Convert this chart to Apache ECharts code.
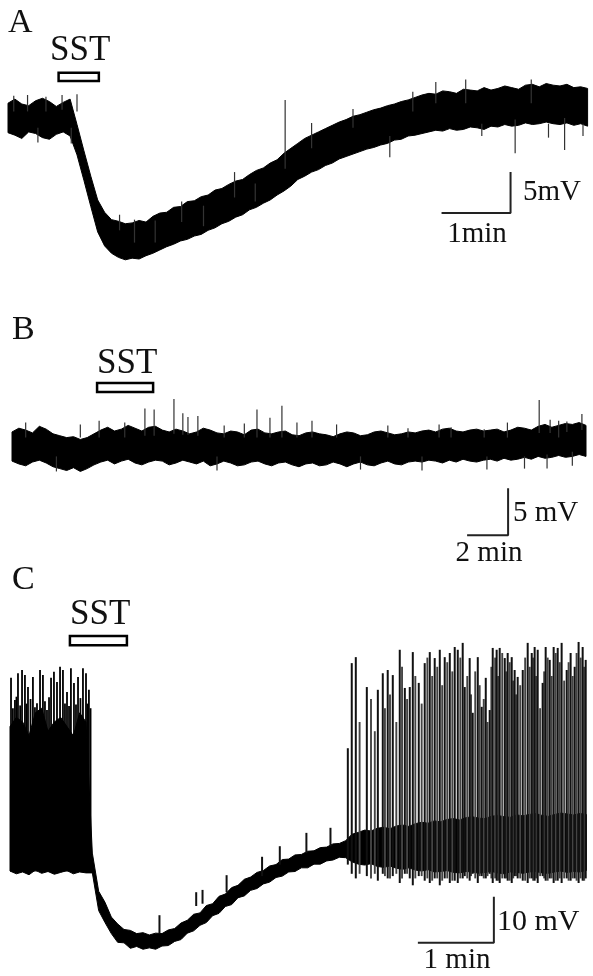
<!DOCTYPE html>
<html><head><meta charset="utf-8">
<script src="https://cdn.jsdelivr.net/npm/echarts@6/dist/echarts.min.js"></script>
<style>html,body{margin:0;padding:0;background:#fff}#c{width:593px;height:976px}</style>
</head><body><div id="c"></div><script>
// ---------- Panel A (sample step 6 s, mV relative to rest) ----------
const dtA = 6;
const upperA = [2.0,2.5,1.9,1.7,2.3,2.6,2.2,1.6,2.1,2.5,
-0.6,-3.8,-6.9,-9.8,-11.3,-12.2,-12.4,-12.7,-12.6,-12.3,
-12.5,-11.8,-11.4,-11.3,-10.7,-10.6,-10.0,-9.9,-9.4,-9.2,
-8.6,-8.4,-7.9,-7.5,-7.3,-6.7,-6.2,-5.9,-5.3,-4.9,
-4.1,-3.5,-2.9,-2.3,-1.9,-1.5,-1.1,-0.7,-0.3,0.0,
0.4,0.6,0.9,1.2,1.4,1.7,1.9,2.2,2.4,2.7,
3.0,3.2,3.1,3.5,3.4,3.2,3.7,3.6,3.5,3.9,
3.6,3.8,4.1,3.9,3.7,4.2,4.3,4.0,4.4,4.2,
4.1,4.3,3.9,4.0,3.8];
const lowerA = [-1.6,-1.9,-2.3,-1.5,-1.7,-2.2,-2.4,-1.8,-1.5,-2.0,
-4.3,-7.4,-10.6,-13.7,-15.4,-16.3,-16.8,-17.1,-16.9,-17.0,
-16.6,-16.3,-15.9,-15.5,-15.2,-14.8,-14.6,-14.2,-14.0,-13.5,
-13.2,-12.7,-12.4,-11.9,-11.6,-11.0,-10.7,-10.2,-9.8,-9.2,
-8.7,-8.1,-7.3,-6.9,-6.4,-6.1,-5.6,-5.3,-4.8,-4.5,
-4.2,-3.9,-3.6,-3.4,-3.1,-2.9,-2.5,-2.4,-2.0,-1.9,
-1.7,-1.5,-1.3,-1.4,-1.1,-1.3,-1.2,-0.9,-1.0,-1.2,
-0.8,-0.9,-0.6,-0.8,-0.7,-0.4,-0.6,-0.5,-0.3,-0.5,
-0.6,-0.4,-0.7,-0.5,-0.8];
// spikes: [time s, from mV, to mV]
const spikesA = [[97,-13.5,-11.6],[151,-12.5,-10.0],[197,-9.5,-6.4],[241,-6.0,2.4],[264,-3.5,-0.4],
[332,-2.0,-4.6],[441,0,-4.1],[484,0.2,-3.7],
[5,1,2.9],[17,1,3.0],[26,-1,-2.8],[33,1,2.8],[47,1.2,3.0],[55,-1,-2.9],[60,1,3.1],
[110,-15,-12.2],[128,-15,-12.3],[170,-13,-10.5],[215,-10,-7.8],
[300,-1,1.3],[352,1,3.4],[372,2,4.6],[398,2,4.9],[412,-0.5,-2.0],[455,2,4.9],[470,-0.5,-2.2],
[500,-0.5,-2.0],[510,2,5.0],[530,2,4.9]];
const sstA = [44, 79, 5.7, 4.7];           // t start, t end, mV top, mV bottom
const scaleA = [377, 437, -11.4, -6.4];    // 1 min, 5 mV

// ---------- Panel B (sample step 20 s) ----------
const dtB = 20;
const upperB = [1.6,2.0,1.8,1.5,2.2,1.9,1.4,1.2,1.0,1.1,
0.8,1.0,1.4,1.8,2.1,1.7,1.9,2.3,2.0,1.7,
2.1,2.2,1.8,1.6,1.9,1.7,1.4,1.6,2.0,1.8,
1.5,1.4,1.7,1.6,1.3,1.8,1.9,1.5,1.4,1.6,
1.7,1.3,1.2,1.5,1.6,1.4,1.3,1.1,1.4,1.6,
1.5,1.2,1.3,1.6,1.7,1.5,1.3,1.4,1.6,1.5,
1.7,1.8,1.6,1.9,2.0,1.7,1.6,1.8,1.9,1.7,
1.8,1.9,1.6,1.8,2.1,2.0,1.8,2.2,2.4,2.1,
2.3,2.5,2.4,2.6,2.3];
const lowerB = [-1.5,-1.8,-2.0,-1.6,-1.4,-1.7,-2.1,-2.3,-2.5,-2.2,
-2.6,-2.3,-1.9,-1.6,-1.4,-1.8,-1.5,-1.3,-1.7,-1.9,
-1.6,-1.4,-1.5,-1.9,-1.7,-1.4,-1.6,-1.8,-1.5,-2.0,
-1.8,-1.5,-1.7,-2.0,-1.9,-1.6,-1.5,-1.8,-2.0,-1.7,
-1.6,-1.9,-2.1,-1.8,-1.7,-2.0,-1.9,-1.6,-1.8,-2.1,
-1.8,-1.6,-1.9,-2.0,-1.7,-1.5,-1.8,-1.9,-1.6,-1.5,
-1.6,-1.4,-1.5,-1.7,-1.4,-1.6,-1.3,-1.5,-1.6,-1.4,
-1.3,-1.5,-1.2,-1.4,-1.3,-1.1,-1.3,-1.0,-1.2,-1.1,
-0.9,-1.1,-1.0,-0.8,-1.0];
const spikesB = [[255,1.0,2.8],[389,1.2,4.1],[416,1.2,4.0],[474,1.4,5.1],[500,1.3,3.6],[515,1.3,3.2],
[544,1.2,3.3],[621,1.0,2.3],[717,1.0,4.0],[755,1.0,3.1],[790,1.0,4.4],[834,1.0,2.6],[878,1.0,2.8],
[1159,1.0,2.0],[1285,1.0,2.1],[1382,1.0,1.9],[1543,1.5,5.0],[1575,1.5,2.9],[1624,1.6,2.7],[1668,1.8,3.5],
[1390,-1.0,-2.4],[1566,-0.8,-2.3],
[40,1,2.6],[130,-1,-2.6],[200,1,2.4],[330,1,2.6],[600,-1,-2.5],[680,1,2.5],[950,1,2.4],[1020,-1,-2.4],
[1100,1,2.3],[1200,-1,-2.5],[1250,1,2.4],[1450,1,2.6],[1500,-1,-2.3],[1600,1,2.8],[1640,-0.5,-2.0]];
const sstB = [249, 413, 6.8, 5.85];
const scaleB = [1332, 1452, -9.4, -4.4];   // 2 min, 5 mV

// ---------- Panel C (sample step 5 s) ----------
const dtC = 5;
const upperC = [29,31,30,27,32,33,28,30,31,29,27,32,30,
1.5,-6.8,-9.2,-12.4,-13.9,-15.1,-15.3,-16.0,-15.8,-16.3,-15.9,-16.0,-15.2,-14.9,-13.7,-13.1,-11.8,
-11.5,-9.9,-9.5,-7.9,-7.4,-6.0,-5.5,-4.2,-3.7,-2.7,-2.3,-1.3,-1.0,0.1,0.2,1.1,1.2,1.9,2.0,2.7,
2.8,3.5,3.6,4.2,
5.6,6.0,6.5,6.3,6.9,7.1,6.8,7.4,7.6,7.3,7.9,8.2,8.0,8.5,8.3,8.8,9.0,8.7,9.2,9.4,
9.1,9.0,9.5,9.7,9.4,9.3,9.8,9.6,9.9,10.1,9.7,9.5,9.9,10.2,10.0,9.8,10.1,9.9];
const lowerC = [-2.4,-3.0,-2.6,-3.2,-2.2,-2.9,-2.5,-3.1,-2.7,-2.3,-3.0,-2.6,-2.8,
-2.8,-11.0,-13.6,-16.0,-17.9,-18.0,-19.2,-18.8,-19.4,-19.1,-19.4,-18.7,-18.6,-17.7,-17.3,-15.9,-15.4,
-14.2,-13.6,-12.1,-11.6,-10.1,-9.7,-8.2,-7.8,-6.6,-6.2,-5.2,-4.8,-3.8,-3.5,-2.6,-2.5,-1.7,-1.7,-0.9,-0.9,
-0.2,0.0,0.6,0.5,
-0.4,-0.9,-1.1,-0.8,-1.4,-1.6,-1.3,-1.8,-2.0,-1.7,-2.2,-2.4,-2.1,-2.6,-2.5,-2.3,-2.7,-2.8,-2.5,-2.6,
-2.9,-2.7,-2.5,-2.8,-3.0,-2.6,-2.7,-2.9,-2.6,-2.5,-2.8,-2.9,-2.6,-2.4,-2.7,-2.5,-2.6,-2.3];
const burstSpikesC = [[0.8,-2.5,39.6],[2.3,-2.5,33.0],[3.9,-2.5,34.8],[5.1,-2.5,35.5],[6.3,-2.5,40.6],[8.0,-2.5,33.6],
[9.5,-2.5,41.3],[11.8,-2.5,40.2],[13.0,-2.5,34.0],[14.2,-2.5,37.6],[16.2,-2.5,35.0],[18.1,-2.5,39.8],[19.7,-2.5,33.2],
[21.3,-2.5,34.1],[23.7,-2.5,41.3],[26.0,-2.5,40.2],[27.6,-2.5,34.5],[29.2,-2.5,32.6],[30.8,-2.5,35.4],[32.4,-2.5,39.6],
[34.7,-2.5,40.9],[37.1,-2.5,38.7],[39.5,-2.5,42.0],[41.8,-2.5,41.3],[43.4,-2.5,34.0],[45.0,-2.5,36.5],[46.6,-2.5,33.5],
[48.1,-2.5,41.7],[50.5,-2.5,38.5],[52.1,-2.5,33.8],[53.7,-2.5,39.8],[55.6,-2.5,35.2],[57.6,-2.5,41.7],[60.0,-2.5,40.6],
[61.2,-2.5,34.0],[62.3,-2.5,37.0],[63.6,-2.5,33.0]];
const spikesC = [[118,-16,-12],[147,-10,-7],[152,-9.5,-6.5],[171,-7,-3.3],[199,-3.5,0.7],[213,-1,3.0],[234,1.5,5.9],[253,3,7.0],
[266.7,-1,24.3],[269.8,-3,42.8],[273.0,-4,44.1],[281.7,-3.5,37.6],[290.4,-4.5,37.0],[294.3,-3,40.6],[298.2,-4,41.3],
[302.2,-3.5,40.2],[307.7,-5,45.7],[311.7,-3,37.4],[315.6,-4,37.6],[318.0,-5.5,45.2],[322.7,-3.5,38.5],[327.4,-4.5,42.8],
[331.4,-5,45.2],[335.3,-4,43.9],[339.3,-5.5,45.7],[343.2,-4,44.1],[347.2,-5,45.0],[351.1,-4.5,46.3],[353.5,-5,45.7],
[357.4,-4,47.2],[359.0,-3.5,37.6],[362.9,-4.5,43.9],[365.3,-3,32.0],[369.3,-5,44.1],[372.4,-3.5,33.3],[375.6,-4,39.6],
[378.7,-3,32.6],[381.1,-5,46.1],[384.2,-4.5,45.7],[386.6,-5,46.1],[390.6,-4,43.9],[392.9,-4.5,45.0],[396.1,-5,44.1],
[398.4,-3.5,41.3],[400.8,-4,39.8],[404.8,-4.5,41.3],[408.7,-5,47.2],[411.9,-4,45.0],[414.2,-4.5,46.3],[416.6,-5,45.7],
[420.5,-3.5,38.5],[422.9,-4.5,46.3],[426.1,-4,43.5],[429.2,-5,46.3],[432.4,-4.5,46.1],[435.5,-5,47.2],[439.5,-4,41.3],
[442.6,-4.5,45.0],[445.8,-4,42.0],[448.9,-5,47.4],[452.1,-4.5,46.3],[454.5,-4,43.5]];
// fainter spikes between the ones above (overlapping action potentials)
const spikesC2 = [[276,-3,30],[285,-4,35],[288,-3,28],[296,-3.5,33],[300,-4,36],[305,-3,30],[309.5,-4,42],[313.5,-3,35],
[320,-4,40],[325,-3.5,34],[329.5,-4,44],[333.3,-4.5,40],[337.3,-4,42],[341.2,-4.5,38],[345.2,-4,43],[349.2,-4.5,41],
[355.5,-4,44],[361,-4,40],[364,-3.5,36],[367.3,-4,41],[370.8,-3.5,38],[374,-4,35],[377,-3.5,30],[380,-4,42],[383,-4,44],
[385.4,-4.5,40],[388.6,-4,45],[391.8,-4,41],[394.5,-4.5,43],[397.3,-4,39],[399.6,-3.5,36],[402.8,-4,38],[406.7,-4.5,44],
[410.3,-4,42],[413,-4.5,44],[415.4,-4,40],[418.5,-3.5,33],[421.7,-4,41],[424.5,-4.5,44],[427.6,-4,40],[430.8,-4.5,45],
[434,-4,43],[437.5,-4,39],[441,-4.5,43],[444.2,-4,40],[447.3,-4.5,45],[450.5,-4,44],[453.3,-4.5,42]];
const sstC = [47.3, 92.3, 48.7, 46.7];
const scaleC = [322, 382, -18, -8];        // 1 min, 10 mV

// ---------- labels ----------
const panelLabels = ['A', 'B', 'C'];
const drugLabel = 'SST';
const scaleLabels = [['5mV', '1min'], ['5 mV', '2 min'], ['10 mV', '1 min']];

// ---------- build ----------
const SERIF = '"Liberation Serif","DejaVu Serif",serif';
const INK = '#111';

function bandSeries(upper, lower, dt, idx) {
  return {
    type: 'custom', xAxisIndex: idx, yAxisIndex: idx, silent: true, data: [[0, 0]],
    renderItem: function (params, api) {
      const pts = [];
      for (let i = 0; i < upper.length; i++) pts.push(api.coord([i * dt, upper[i]]));
      for (let i = lower.length - 1; i >= 0; i--) pts.push(api.coord([i * dt, lower[i]]));
      return { type: 'polygon', shape: { points: pts }, style: { fill: '#000', stroke: '#000', lineWidth: 1 } };
    }
  };
}
function spikeSeries(data, idx, color, width) {
  return {
    type: 'custom', xAxisIndex: idx, yAxisIndex: idx, silent: true, data: data,
    renderItem: function (params, api) {
      const a = api.coord([api.value(0), api.value(1)]);
      const b = api.coord([api.value(0), api.value(2)]);
      return { type: 'line', shape: { x1: a[0], y1: a[1], x2: b[0], y2: b[1] }, style: { stroke: color, lineWidth: width } };
    }
  };
}
function barSeries(s, idx) {
  return {
    type: 'custom', xAxisIndex: idx, yAxisIndex: idx, silent: true, data: [s],
    renderItem: function (params, api) {
      const a = api.coord([api.value(0), api.value(2)]);
      const b = api.coord([api.value(1), api.value(3)]);
      return { type: 'rect', shape: { x: a[0], y: a[1], width: b[0] - a[0], height: b[1] - a[1] },
        style: { fill: '#fff', stroke: '#000', lineWidth: 2.5 } };
    }
  };
}
function scaleSeries(s, idx) {
  return {
    type: 'line', xAxisIndex: idx, yAxisIndex: idx, silent: true, clip: false, showSymbol: false, symbol: 'none',
    data: [[s[0], s[2]], [s[1], s[2]], [s[1], s[3]]],
    lineStyle: { color: '#222', width: 2 }
  };
}
function txt(t, x, y, size, align) {
  return { type: 'text', x: x, y: y, silent: true,
    style: { text: t, font: size + 'px ' + SERIF, fill: INK, textAlign: align || 'left', textVerticalAlign: 'middle' } };
}

const option = {
  animation: false,
  backgroundColor: '#fff',
  grid: [
    { left: 8, top: 54, width: 504 / 60 * 69, height: 25 * 8.2 },
    { left: 12, top: 371.8, width: 1680 / 60 * 20.5, height: 18 * 9.4 },
    { left: 10, top: 620.8, width: 455 * 76 / 60, height: 74 * 4.6 }
  ],
  xAxis: [
    { type: 'value', gridIndex: 0, min: 0, max: (upperA.length - 1) * dtA, show: false },
    { type: 'value', gridIndex: 1, min: 0, max: (upperB.length - 1) * dtB, show: false },
    { type: 'value', gridIndex: 2, min: 0, max: (upperC.length - 1) * dtC, show: false }
  ],
  yAxis: [
    { type: 'value', gridIndex: 0, min: -17, max: 8, show: false },
    { type: 'value', gridIndex: 1, min: -10, max: 8, show: false },
    { type: 'value', gridIndex: 2, min: -22, max: 52, show: false }
  ],
  series: [
    bandSeries(upperA, lowerA, dtA, 0), spikeSeries(spikesA, 0, '#333', 1.2), barSeries(sstA, 0), scaleSeries(scaleA, 0),
    bandSeries(upperB, lowerB, dtB, 1), spikeSeries(spikesB, 1, '#333', 1.2), barSeries(sstB, 1), scaleSeries(scaleB, 1),
    spikeSeries(burstSpikesC, 2, '#000', 1.8), bandSeries(upperC, lowerC, dtC, 2),
    spikeSeries(spikesC2, 2, '#444', 1.9), spikeSeries(spikesC, 2, '#111', 2.0),
    barSeries(sstC, 2), scaleSeries(scaleC, 2)
  ],
  graphic: [
    txt(panelLabels[0], 8, 23, 34), txt(drugLabel, 50, 51, 35),
    txt(panelLabels[1], 12, 330, 34), txt(drugLabel, 97, 364, 35),
    txt(panelLabels[2], 12, 580, 34), txt(drugLabel, 70, 615, 35),
    txt(scaleLabels[0][0], 523, 192, 29), txt(scaleLabels[0][1], 477, 234, 29, 'center'),
    txt(scaleLabels[1][0], 513, 513, 29), txt(scaleLabels[1][1], 489, 553, 29, 'center'),
    txt(scaleLabels[2][0], 497, 922, 30), txt(scaleLabels[2][1], 457, 960, 29, 'center')
  ]
};
const chart = echarts.init(document.getElementById('c'));
chart.setOption(option);
</script></body></html>
